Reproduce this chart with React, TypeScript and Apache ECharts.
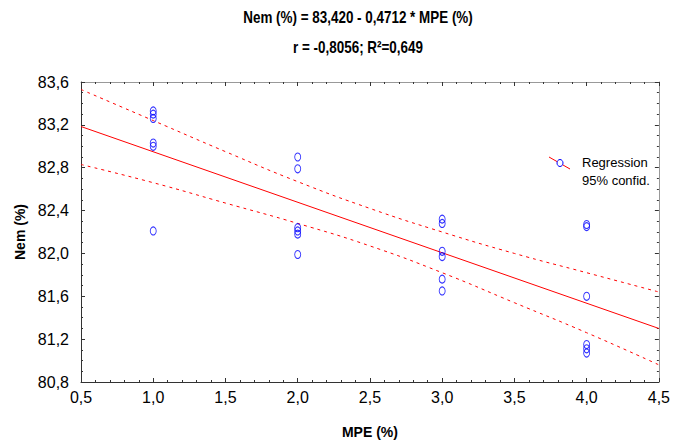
import React, { useEffect, useRef } from "react";
import * as echarts from "echarts";

// Observations: MPE (%) vs Nem (%)
const mpe = [1, 1, 1, 1, 1, 1, 2, 2, 2, 2, 2, 2, 3, 3, 3, 3, 3, 3, 4, 4, 4, 4, 4, 4];
const nem = [
  83.33, 83.3, 83.26, 83.03, 83.0, 82.21,
  82.9, 82.79, 82.24, 82.21, 82.18, 81.99,
  82.32, 82.28, 82.02, 81.97, 81.76, 81.65,
  82.27, 82.25, 81.6, 81.15, 81.11, 81.07,
];

// Fitted line: Nem = 83,420 - 0,4712 * MPE
const intercept = 83.42;
const slope = -0.4712;
const lineX = [0.5, 4.5];

// 95% confidence band
const bandX = [0.5, 1.0, 1.5, 2.0, 2.5, 3.0, 3.5, 4.0, 4.5];
const bandUpper = [83.53, 83.24, 82.95, 82.67, 82.42, 82.2, 82.0, 81.82, 81.64];
const bandLower = [82.83, 82.66, 82.47, 82.28, 82.07, 81.82, 81.54, 81.26, 80.96];

const titleLine1 = "Nem (%) = 83,420 - 0,4712 * MPE (%)";
const titleLine2 = "r = -0,8056; R²=0,649";
const xName = "MPE (%)";
const yName = "Nem (%)";
const legendItems = ["Regression", "95% confid."];

const FONT = "'Liberation Sans', Arial, sans-serif";
const fmt = (v: number) => v.toFixed(1).replace(".", ",");

export default function App() {
  const ref = useRef<HTMLDivElement>(null);

  useEffect(() => {
    if (!ref.current) return;
    const chart = echarts.init(ref.current, null, { renderer: "svg" });

    const xBase = {
      type: "value" as const,
      min: 0.5,
      max: 4.5,
      interval: 0.5,
      splitLine: { show: false },
      axisTick: { show: true, inside: true, length: 4, lineStyle: { color: "#333" } },
      minorTick: { show: true, splitNumber: 5, length: 2, lineStyle: { color: "#333" } },
    };
    const yBase = {
      type: "value" as const,
      min: 80.8,
      max: 83.6,
      interval: 0.4,
      splitLine: { show: false },
      axisTick: { show: true, inside: true, length: 4, lineStyle: { color: "#333" } },
      minorTick: { show: true, splitNumber: 4, length: 2, lineStyle: { color: "#333" } },
    };

    const titleStyle = {
      font: `bold 16px ${FONT}`,
      fill: "#000",
      textAlign: "center",
      textVerticalAlign: "middle",
    };

    chart.setOption({
      animation: false,
      backgroundColor: "#ffffff",
      textStyle: { fontFamily: FONT },
      grid: { left: 81, right: 12, top: 82, bottom: 61, containLabel: false },
      xAxis: [
        {
          ...xBase,
          position: "bottom",
          name: xName,
          nameLocation: "middle",
          nameGap: 43,
          nameTextStyle: { fontFamily: FONT, fontSize: 14, fontWeight: "bold", color: "#000" },
          axisLine: { show: true, lineStyle: { color: "#333", width: 1 } },
          axisLabel: {
            formatter: fmt,
            margin: 7,
            fontFamily: FONT,
            fontSize: 16,
            color: "#000",
          },
        },
        {
          ...xBase,
          position: "top",
          axisLine: { show: true, lineStyle: { color: "#999", width: 1 } },
          axisLabel: { show: false },
        },
      ],
      yAxis: [
        {
          ...yBase,
          position: "left",
          name: yName,
          nameLocation: "middle",
          nameGap: 52,
          nameRotate: 90,
          nameTextStyle: { fontFamily: FONT, fontSize: 14, fontWeight: "bold", color: "#000" },
          axisLine: { show: true, lineStyle: { color: "#333", width: 1 } },
          axisLabel: {
            formatter: fmt,
            margin: 12,
            fontFamily: FONT,
            fontSize: 16,
            color: "#000",
          },
        },
        {
          ...yBase,
          position: "right",
          axisLine: { show: true, lineStyle: { color: "#999", width: 1 } },
          axisLabel: { show: false },
        },
      ],
      series: [
        {
          type: "line",
          name: "upper",
          data: bandX.map((x, i) => [x, bandUpper[i]]),
          smooth: true,
          showSymbol: false,
          silent: true,
          lineStyle: { color: "#ff0000", width: 1, type: [3, 4] },
          z: 2,
        },
        {
          type: "line",
          name: "lower",
          data: bandX.map((x, i) => [x, bandLower[i]]),
          smooth: true,
          showSymbol: false,
          silent: true,
          lineStyle: { color: "#ff0000", width: 1, type: [3, 4] },
          z: 2,
        },
        {
          type: "line",
          name: "Regression",
          data: lineX.map((x) => [x, intercept + slope * x]),
          showSymbol: false,
          silent: true,
          lineStyle: { color: "#ff0000", width: 1 },
          z: 3,
        },
        {
          type: "scatter",
          name: "points",
          data: mpe.map((x, i) => [x, nem[i]]),
          symbol: "circle",
          symbolSize: [6, 8],
          itemStyle: { color: "rgba(0,0,0,0)", borderColor: "#0000ff", borderWidth: 1 },
          z: 4,
        },
      ],
      graphic: [
        {
          type: "text",
          x: 358,
          y: 18,
          scaleX: 0.84,
          style: { ...titleStyle, text: titleLine1 },
        },
        {
          type: "text",
          x: 358,
          y: 48,
          scaleX: 0.84,
          style: { ...titleStyle, text: titleLine2 },
        },
        {
          type: "line",
          shape: { x1: 549, y1: 157, x2: 570, y2: 169 },
          style: { stroke: "#ff0000", lineWidth: 1 },
        },
        {
          type: "ellipse",
          shape: { cx: 560, cy: 163, rx: 3, ry: 3.5 },
          style: { fill: "#ffffff", stroke: "#0000ff", lineWidth: 1 },
        },
        {
          type: "text",
          left: 582,
          top: 156,
          style: { text: legendItems[0], font: `13px ${FONT}`, fill: "#000" },
        },
        {
          type: "text",
          left: 582,
          top: 174,
          style: { text: legendItems[1], font: `13px ${FONT}`, fill: "#000" },
        },
      ],
    });

    return () => chart.dispose();
  }, []);

  return (
    <div
      ref={ref}
      style={{ position: "fixed", left: 0, top: 0, width: 673, height: 444 }}
    />
  );
}
